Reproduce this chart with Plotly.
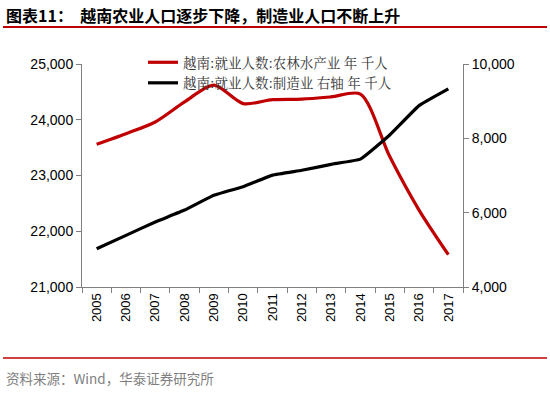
import plotly.graph_objects as go

years = [str(y) for y in range(2005, 2018)]
agri = [23560, 23750, 23960, 24320, 24620, 24290, 24360, 24370, 24410, 24460, 23340, 22380, 21580]
manu = [5030, 5390, 5750, 6070, 6470, 6700, 7010, 7140, 7300, 7440, 8090, 8880, 9330]
name_agri = "越南:就业人数:农林水产业 年 千人"
name_manu = "越南:就业人数:制造业 右轴 年 千人"
left_ticks = [21000, 22000, 23000, 24000, 25000]
right_ticks = [4000, 6000, 8000, 10000]

W, H = 550, 394
L, R, T, B = 82, 463, 64, 287

fig = go.Figure()
fig.add_trace(go.Scatter(x=years, y=agri, name=name_agri, mode="lines",
                         line=dict(color="#C00000", width=3.2, shape="spline", smoothing=0.8)))
fig.add_trace(go.Scatter(x=years, y=manu, name=name_manu, mode="lines", yaxis="y2",
                         line=dict(color="#000000", width=3.2, shape="spline", smoothing=0.3)))

axis_col = "#808080"
fig.update_layout(
    width=W, height=H,
    margin=dict(l=L, r=W - R, t=T, b=H - B),
    paper_bgcolor="white", plot_bgcolor="white",
    font=dict(family="Liberation Sans, Arial, sans-serif", size=13, color="#000"),
    showlegend=True,
    legend=dict(x=(143 - L) / (R - L), y=(B - 47) / (B - T), xanchor="left", yanchor="top",
                bgcolor="rgba(0,0,0,0)", tracegroupgap=2,
                font=dict(family="Noto Serif CJK SC, Noto Sans CJK SC, serif", size=13.5, color="#333")),
    xaxis=dict(type="category", range=[-0.5, len(years) - 0.5], showgrid=False, showline=True,
               linecolor=axis_col, linewidth=1,
               ticks="outside", tickson="boundaries", ticklen=5, tickcolor=axis_col,
               tickangle=-90, tickfont=dict(size=13), zeroline=False),
    yaxis=dict(range=[21000, 25000], tickvals=left_ticks, tickformat=",d", showgrid=False,
               showline=True, linecolor=axis_col, ticks="outside", ticklen=5, tickcolor=axis_col,
               zeroline=False, tickfont=dict(size=14)),
    yaxis2=dict(range=[4000, 10000], tickvals=right_ticks, tickformat=",d", overlaying="y",
                side="right", showgrid=False, showline=True, linecolor=axis_col, ticks="outside",
                ticklen=5, tickcolor=axis_col, zeroline=False, tickfont=dict(size=14)),
)

def px(xp):
    return (xp - L) / (R - L)

def py(yp):
    return (B - yp) / (B - T)

fig.add_shape(type="line", xref="paper", yref="paper", x0=px(3), x1=px(547), y0=py(27), y1=py(27),
              line=dict(color="#C00000", width=2))
fig.add_shape(type="line", xref="paper", yref="paper", x0=px(3), x1=px(547), y0=py(358), y1=py(358),
              line=dict(color="#C00000", width=1.5))
fig.add_annotation(xref="paper", yref="paper", x=px(4), y=py(15), xanchor="left", yanchor="middle",
                   text="<b>图表11：  越南农业人口逐步下降，制造业人口不断上升</b>", showarrow=False,
                   font=dict(family="Noto Sans CJK SC", size=16, color="#000"))
fig.add_annotation(xref="paper", yref="paper", x=px(4), y=py(378), xanchor="left", yanchor="middle",
                   text="资料来源：Wind，华泰证券研究所", showarrow=False,
                   font=dict(family="Noto Sans CJK SC", size=13.5, color="#7f7f7f"))

fig.write_html("out.html", config={"displayModeBar": False})

with open("out.html", encoding="utf-8") as f:
    html = f.read()
html = html.replace("<head>", "<head><style>html,body{margin:0;padding:0;overflow:hidden;}</style>", 1)
with open("out.html", "w", encoding="utf-8") as f:
    f.write(html)
